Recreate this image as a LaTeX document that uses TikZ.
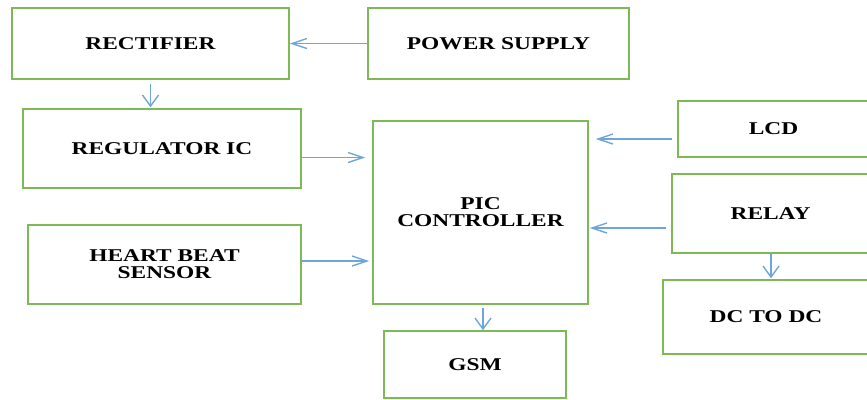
\documentclass[tikz,border=0pt]{standalone}
\usepackage{fontspec}
\usetikzlibrary{arrows.meta}
\newfontfamily\blockfont[FakeStretch=1.3]{Liberation Serif}
\definecolor{BoxGreen}{HTML}{7DB956}
\definecolor{ArrowBlue}{HTML}{6FA5DA}

\begin{document}
\begin{tikzpicture}[x=1pt, y=1pt,
  box/.style n args={2}{draw=BoxGreen, line width=1.5pt, fill=white, minimum width=#1, minimum height=#2, align=center, inner sep=0pt,
    font=\blockfont\bfseries\fontsize{18}{17}\selectfont},
  harr/.style={-{Straight Barb[length=15pt, width=10pt]}, line width=1.4pt, ArrowBlue},
  varr/.style={-{Straight Barb[length=11pt, width=16pt]}, line width=1.4pt, ArrowBlue}
]
\useasboundingbox (0,0) rectangle (867,-399);
\node[box={277pt}{71pt}] (rect) at (150.5,-43.5) {RECTIFIER};
\node[box={261pt}{71pt}] (power) at (498.5,-43.5) {POWER SUPPLY};
\node[box={278pt}{79pt}] (reg) at (162,-148.5) {REGULATOR IC};
\node[box={273pt}{79pt}] (heart) at (164.5,-264.5) {HEART BEAT\\SENSOR};
\node[box={215pt}{183pt}] (pic) at (480.5,-212.5) {PIC\\CONTROLLER};
\node[box={182pt}{67pt}] (gsm) at (475,-364.5) {GSM};
\node[box={191pt}{56pt}] (lcd) at (773.5,-129) {LCD};
\node[box={197pt}{79pt}] (relay) at (770.5,-213.5) {RELAY};
\node[box={206pt}{74pt}] (dcdc) at (766,-317) {DC TO DC};

\draw[harr] (power.west) -- (rect.east);
\draw[varr, shorten <=4pt, shorten >=1pt] (rect.south) -- (rect.south |- reg.north);
\draw[harr, shorten >=7pt] ([yshift=-9pt]reg.east) -- ([yshift=-9pt]reg.east -| pic.west);
\draw[harr, shorten >=3pt] ([yshift=3.5pt]heart.east) -- ([yshift=3.5pt]heart.east -| pic.west);
\draw[harr, shorten <=5pt, shorten >=7pt] ([yshift=-10pt]lcd.west) -- ([yshift=-10pt]lcd.west -| pic.east);
\draw[harr, shorten <=5pt, shorten >=1pt] ([yshift=-14.5pt]relay.west) -- ([yshift=-14.5pt]relay.west -| pic.east);
\draw[varr, shorten >=1pt] ([xshift=0.5pt]relay.south) -- ([xshift=0.5pt]relay.south |- dcdc.north);
\draw[varr, shorten <=3pt] ([xshift=2.5pt]pic.south) -- ([xshift=2.5pt]pic.south |- gsm.north);
\end{tikzpicture}
\end{document}
